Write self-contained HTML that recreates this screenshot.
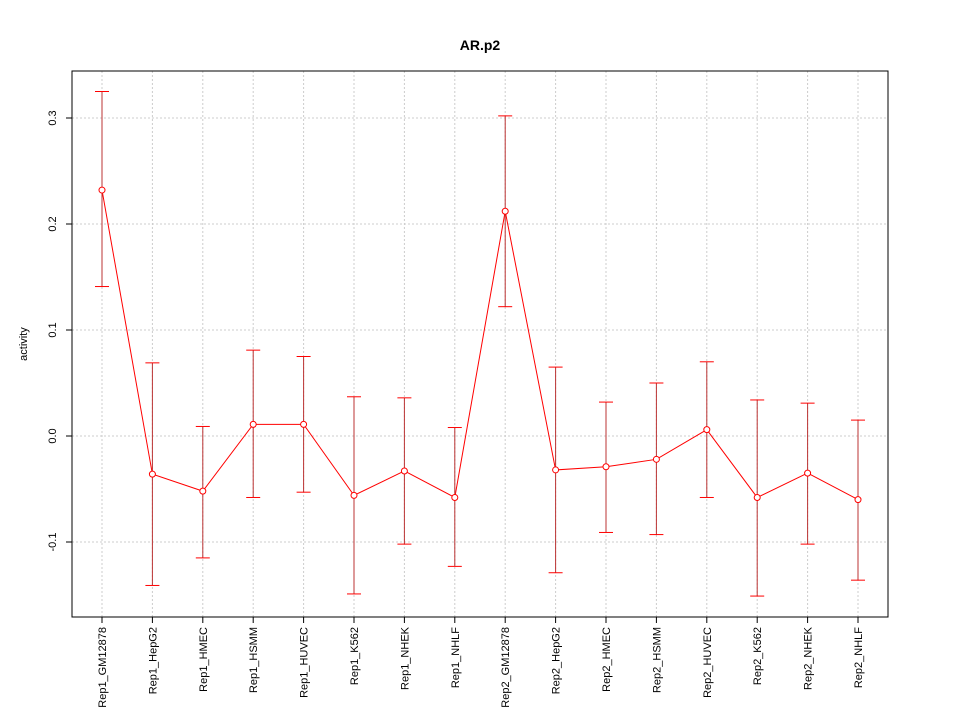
<!DOCTYPE html>
<html><head><meta charset="utf-8"><style>
body{margin:0;background:#fff}
svg text{font-family:"Liberation Sans",Arial,sans-serif}
</style></head><body>
<svg id="chart" width="960" height="720" xmlns="http://www.w3.org/2000/svg">
<rect width="960" height="720" fill="#fff"/>
<text x="480" y="50" text-anchor="middle" font-weight="bold" font-size="14">AR.p2</text>
<text transform="translate(27,344) rotate(-90)" text-anchor="middle" font-size="11">activity</text>
<g id="grid"></g><g id="axes"></g><g id="marks"></g>
<rect x="72" y="71" width="816" height="546" fill="none" stroke="#000"/>
</svg>
<script>
const categories=["Rep1_GM12878","Rep1_HepG2","Rep1_HMEC","Rep1_HSMM","Rep1_HUVEC","Rep1_K562","Rep1_NHEK","Rep1_NHLF","Rep2_GM12878","Rep2_HepG2","Rep2_HMEC","Rep2_HSMM","Rep2_HUVEC","Rep2_K562","Rep2_NHEK","Rep2_NHLF"];
const values=[0.232,-0.036,-0.052,0.011,0.011,-0.056,-0.033,-0.058,0.212,-0.032,-0.029,-0.022,0.006,-0.058,-0.035,-0.060];
const upper=[0.325,0.069,0.009,0.081,0.075,0.037,0.036,0.008,0.302,0.065,0.032,0.050,0.070,0.034,0.031,0.015];
const lower=[0.141,-0.141,-0.115,-0.058,-0.053,-0.149,-0.102,-0.123,0.122,-0.129,-0.091,-0.093,-0.058,-0.151,-0.102,-0.136];
const yTicks=[-0.1,0.0,0.1,0.2,0.3];
const yTickLabels=["-0.1","0.0","0.1","0.2","0.3"];
const NS="http://www.w3.org/2000/svg";
function x(i){return 102+i*(858-102)/15;}
function y(v){return 436-v*1060;}
function mk(p,tag,a){const e=document.createElementNS(NS,tag);for(const k in a)e.setAttribute(k,a[k]);p.appendChild(e);return e;}
const grid=document.getElementById('grid'),axes=document.getElementById('axes'),marks=document.getElementById('marks');
yTicks.forEach((t,i)=>{
 const g=mk(grid,'line',{x1:72,x2:888,y1:y(t),y2:y(t),stroke:'#ccc','stroke-dasharray':'2,2'});
 
 
 const tk=mk(axes,'line',{x1:66,x2:72,y1:y(t),y2:y(t),stroke:'#000'});
 
 
 const tx=mk(axes,'text',{transform:`translate(56,${y(t)}) rotate(-90)`,'text-anchor':'middle','font-size':11});
 
 
 tx.textContent=yTickLabels[i];
});
categories.forEach((c,i)=>{
 const g=mk(grid,'line',{x1:x(i),x2:x(i),y1:71,y2:617,stroke:'#ccc','stroke-dasharray':'2,2'});
 
 
 const tk=mk(axes,'line',{x1:x(i),x2:x(i),y1:617,y2:623,stroke:'#000'});
 
 
 const tx=mk(axes,'text',{transform:`translate(${x(i)+4},627) rotate(-90)`,'text-anchor':'end','font-size':11});
 
 
 tx.textContent=c;
});
const pts=values.map((v,i)=>x(i)+','+y(v)).join(' ');
const line=mk(marks,'polyline',{points:pts,fill:'none',stroke:'#f00'});


values.forEach((v,i)=>{
 const s=mk(marks,'line',{x1:x(i),x2:x(i),y1:y(upper[i]),y2:y(lower[i]),stroke:'#b33'});
 
 
 [upper[i],lower[i]].forEach(b=>{
  const cp=mk(marks,'line',{x1:x(i)-7,x2:x(i)+7,y1:y(b),y2:y(b),stroke:'#f00'});
  
  
 });
 const p=mk(marks,'circle',{cx:x(i),cy:y(v),r:3,fill:'#fff',stroke:'#f00'});
 
 
});
</script>
</body></html>
